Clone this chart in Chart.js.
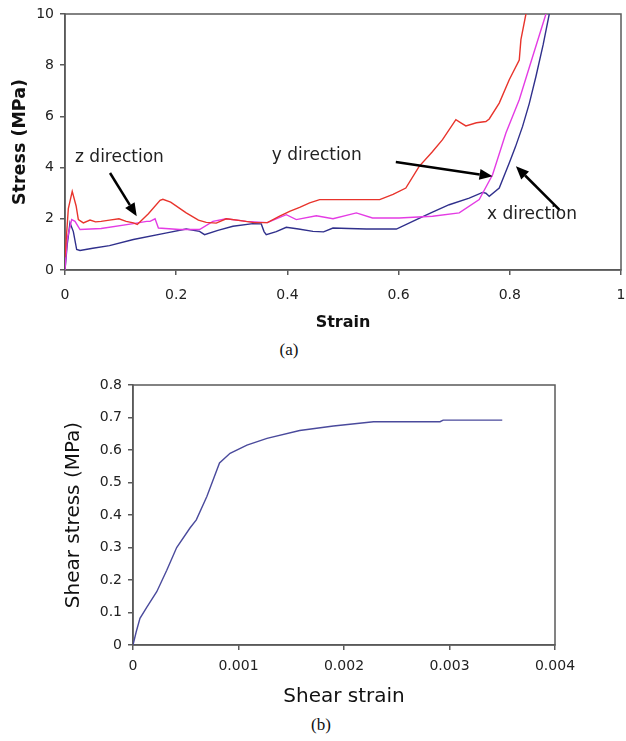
<!DOCTYPE html>
<html>
<head>
<meta charset="utf-8">
<script src="https://cdn.jsdelivr.net/npm/chart.js@4.4.1/dist/chart.umd.min.js"></script>
<style>
  html, body { margin: 0; padding: 0; background: #fff; }
  #wrap { position: relative; width: 626px; height: 741px; overflow: hidden; }
  .cap { position: absolute; font-family: "Liberation Serif", serif; font-size: 17px; color: #111; transform: translateX(-50%); }
</style>
</head>
<body>
<div id="wrap">
  <canvas id="chartA" width="626" height="340" style="position:absolute;left:0;top:0;"></canvas>
  <div class="cap" style="left:289px;top:340px;">(a)</div>
  <canvas id="chartB" width="626" height="345" style="position:absolute;left:0;top:370px;"></canvas>
  <div class="cap" style="left:321px;top:715px;">(b)</div>
</div>
<script>
// ---------- Chart (a): compressive stress-strain ----------
const xTicksA = [0, 0.2, 0.4, 0.6, 0.8, 1];
const xLabelsA = ['0', '0.2', '0.4', '0.6', '0.8', '1'];
const yTicksA = [0, 2, 4, 6, 8, 10];
const yLabelsA = ['0', '2', '4', '6', '8', '10'];

const redStrain = [0, 0.006, 0.013, 0.02, 0.024, 0.033, 0.045, 0.055, 0.065, 0.08, 0.097, 0.11, 0.123, 0.13, 0.15, 0.171, 0.176, 0.19, 0.218, 0.24, 0.254, 0.272, 0.29, 0.316, 0.34, 0.364, 0.386, 0.405, 0.422, 0.44, 0.458, 0.5, 0.54, 0.566, 0.59, 0.613, 0.637, 0.66, 0.679, 0.703, 0.712, 0.721, 0.74, 0.757, 0.763, 0.781, 0.799, 0.817, 0.82, 0.829];
const redStress = [0.5, 2.4, 3.07, 2.5, 1.97, 1.84, 1.95, 1.88, 1.9, 1.95, 2.0, 1.9, 1.84, 1.78, 2.2, 2.72, 2.76, 2.65, 2.23, 1.95, 1.86, 1.83, 2.0, 1.93, 1.85, 1.85, 2.1, 2.3, 2.45, 2.62, 2.75, 2.75, 2.75, 2.75, 2.95, 3.2, 4.05, 4.6, 5.09, 5.87, 5.75, 5.63, 5.75, 5.8, 5.9, 6.52, 7.43, 8.2, 9.0, 10.0];

const magStrain = [0, 0.004, 0.012, 0.018, 0.027, 0.065, 0.123, 0.147, 0.153, 0.162, 0.168, 0.206, 0.242, 0.266, 0.29, 0.326, 0.364, 0.398, 0.416, 0.452, 0.482, 0.524, 0.553, 0.601, 0.661, 0.709, 0.745, 0.769, 0.793, 0.817, 0.841, 0.865];
const magStress = [0, 1.2, 1.97, 1.9, 1.58, 1.62, 1.81, 1.9, 1.9, 2.0, 1.64, 1.58, 1.58, 1.9, 2.0, 1.9, 1.85, 2.16, 1.97, 2.12, 2.0, 2.23, 2.03, 2.03, 2.1, 2.23, 2.75, 3.72, 5.35, 6.65, 8.33, 10];

const blueStrain = [0, 0.004, 0.009, 0.015, 0.021, 0.027, 0.05, 0.08, 0.123, 0.183, 0.218, 0.242, 0.251, 0.275, 0.302, 0.338, 0.353, 0.358, 0.362, 0.38, 0.398, 0.42, 0.446, 0.465, 0.482, 0.51, 0.542, 0.596, 0.632, 0.66, 0.691, 0.727, 0.751, 0.757, 0.763, 0.781, 0.799, 0.81, 0.823, 0.835, 0.847, 0.86, 0.871];
const blueStress = [0, 1.0, 1.84, 1.5, 0.8, 0.76, 0.85, 0.95, 1.19, 1.45, 1.6, 1.51, 1.38, 1.55, 1.71, 1.81, 1.8, 1.5, 1.38, 1.5, 1.67, 1.6, 1.51, 1.49, 1.64, 1.62, 1.6, 1.6, 1.97, 2.25, 2.55, 2.81, 3.03, 3.0, 2.88, 3.2, 4.18, 4.8, 5.61, 6.5, 7.56, 8.8, 10];

// annotation labels and arrows (data coordinates)
const labelTexts = ['z direction', 'y direction', 'x direction'];
const labelX = [0.018, 0.372, 0.759];
const labelY = [4.39, 4.46, 2.16];
const arrowFromX = [0.081, 0.595, 0.889];
const arrowFromY = [3.79, 4.22, 2.36];
const arrowToX = [0.129, 0.769, 0.811];
const arrowToY = [2.1, 3.66, 4.05];

// ---------- Chart (b): shear ----------
const xTicksB = [0, 0.001, 0.002, 0.003, 0.004];
const xLabelsB = ['0', '0.001', '0.002', '0.003', '0.004'];
const yTicksB = [0, 0.1, 0.2, 0.3, 0.4, 0.5, 0.6, 0.7, 0.8];
const yLabelsB = ['0', '0.1', '0.2', '0.3', '0.4', '0.5', '0.6', '0.7', '0.8'];
const shearStrain = [0, 0.00003, 0.000066, 0.00013, 0.000225, 0.00032, 0.000414, 0.00054, 0.0006, 0.0007, 0.00082, 0.00092, 0.00108, 0.00127, 0.00158, 0.0019, 0.00228, 0.00291, 0.00294, 0.0035];
const shearStress = [0, 0.04, 0.082, 0.116, 0.164, 0.23, 0.30, 0.36, 0.385, 0.457, 0.56, 0.59, 0.615, 0.636, 0.66, 0.674, 0.687, 0.687, 0.692, 0.692];

const toPts = (xs, ys) => xs.map((x, i) => ({x: x, y: ys[i]}));
const AXIS_COLOR = '#5a5a5a';
const FONT = 'DejaVu Sans';

const framePlugin = {
  id: 'frame',
  beforeDatasetsDraw(chart) {
    const {ctx, chartArea: a} = chart;
    ctx.save();
    ctx.strokeStyle = AXIS_COLOR;
    ctx.lineWidth = 1.5;
    ctx.strokeRect(a.left, a.top, a.right - a.left, a.bottom - a.top);
    ctx.restore();
  }
};

const annotPlugin = {
  id: 'annot',
  afterDatasetsDraw(chart) {
    if (chart.canvas.id !== 'chartA') return;
    const {ctx} = chart;
    const sx = chart.scales.x, sy = chart.scales.y;
    ctx.save();
    ctx.fillStyle = '#222';
    ctx.font = '17px "' + FONT + '"';
    ctx.textBaseline = 'middle';
    ctx.textAlign = 'left';
    labelTexts.forEach((t, i) => {
      ctx.fillText(t, sx.getPixelForValue(labelX[i]), sy.getPixelForValue(labelY[i]));
    });
    ctx.strokeStyle = '#000';
    ctx.fillStyle = '#000';
    ctx.lineWidth = 2.5;
    arrowFromX.forEach((fx, i) => {
      const x1 = sx.getPixelForValue(fx), y1 = sy.getPixelForValue(arrowFromY[i]);
      const x2 = sx.getPixelForValue(arrowToX[i]), y2 = sy.getPixelForValue(arrowToY[i]);
      const ang = Math.atan2(y2 - y1, x2 - x1);
      const hl = 13, hw = 5.5;
      const bx = x2 - hl * Math.cos(ang), by = y2 - hl * Math.sin(ang);
      ctx.beginPath();
      ctx.moveTo(x1, y1);
      ctx.lineTo(bx, by);
      ctx.stroke();
      ctx.beginPath();
      ctx.moveTo(x2, y2);
      ctx.lineTo(bx + hw * Math.sin(ang), by - hw * Math.cos(ang));
      ctx.lineTo(bx - hw * Math.sin(ang), by + hw * Math.cos(ang));
      ctx.closePath();
      ctx.fill();
    });
    ctx.restore();
  }
};

function axis(cfg) {
  return {
    type: 'linear',
    min: cfg.min, max: cfg.max,
    afterBuildTicks: s => { s.ticks = cfg.ticks.map(v => ({value: v})); },
    afterFit: s => {
      if (cfg.width) s.width = cfg.width;
      if (cfg.height) s.height = cfg.height;
      s.paddingLeft = 0; s.paddingRight = 0; s.paddingTop = 0; s.paddingBottom = 0;
    },
    grid: { display: true, drawOnChartArea: false, drawTicks: true, tickLength: 5, color: AXIS_COLOR, lineWidth: 1.5 },
    border: { display: true, color: AXIS_COLOR, width: 1.5 },
    ticks: {
      autoSkip: false, maxRotation: 0, padding: cfg.tickPad,
      color: '#222', font: { family: FONT, size: cfg.tickSize },
      callback: (v, i) => cfg.labels[i]
    },
    title: {
      display: true, text: cfg.title, color: '#111',
      font: { family: FONT, size: cfg.titleSize, weight: cfg.titleWeight },
      padding: cfg.titlePad
    }
  };
}

Chart.defaults.font.family = FONT;

new Chart(document.getElementById('chartA'), {
  type: 'scatter',
  data: {
    datasets: [
      { data: toPts(redStrain, redStress), borderColor: '#e8342c', borderWidth: 1.4 },
      { data: toPts(magStrain, magStress), borderColor: '#e43ce4', borderWidth: 1.4 },
      { data: toPts(blueStrain, blueStress), borderColor: '#30308c', borderWidth: 1.4 }
    ].map(d => Object.assign(d, { showLine: true, pointRadius: 0, tension: 0, fill: false }))
  },
  options: {
    responsive: false, animation: false, devicePixelRatio: 1,
    layout: { padding: { top: 14, right: 5, left: 0, bottom: 0 } },
    plugins: { legend: { display: false }, tooltip: { enabled: false } },
    scales: {
      x: axis({ min: 0, max: 1, ticks: xTicksA, labels: xLabelsA, height: 70, tickPad: 12, tickSize: 14,
                title: 'Strain', titleSize: 16, titleWeight: 'bold', titlePad: { top: 0, bottom: 8 } }),
      y: axis({ min: 0, max: 10, ticks: yTicksA, labels: yLabelsA, width: 65, tickPad: 6, tickSize: 14,
                title: 'Stress (MPa)', titleSize: 17.5, titleWeight: 'bold', titlePad: { top: 10, bottom: 0 } })
    }
  },
  plugins: [framePlugin, annotPlugin]
});

new Chart(document.getElementById('chartB'), {
  type: 'scatter',
  data: {
    datasets: [
      { data: toPts(shearStrain, shearStress), borderColor: '#4a4a9c', borderWidth: 1.4,
        showLine: true, pointRadius: 0, tension: 0, fill: false }
    ]
  },
  options: {
    responsive: false, animation: false, devicePixelRatio: 1,
    layout: { padding: { top: 15, right: 71, left: 0, bottom: 0 } },
    plugins: { legend: { display: false }, tooltip: { enabled: false } },
    scales: {
      x: axis({ min: 0, max: 0.004, ticks: xTicksB, labels: xLabelsB, height: 70, tickPad: 8, tickSize: 14,
                title: 'Shear strain', titleSize: 20, titleWeight: 'normal', titlePad: { top: 0, bottom: 6 } }),
      y: axis({ min: 0, max: 0.8, ticks: yTicksB, labels: yLabelsB, width: 133, tickPad: 6, tickSize: 14,
                title: 'Shear stress (MPa)', titleSize: 20, titleWeight: 'normal', titlePad: { top: 62, bottom: 0 } })
    }
  },
  plugins: [framePlugin]
});
</script>
</body>
</html>
